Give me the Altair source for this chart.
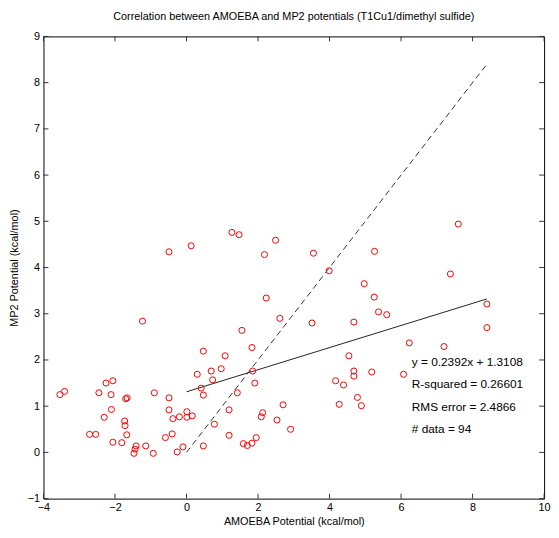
import altair as alt
import pandas as pd

# ---- data ----
amoeba = [-0.49, 0.13, -1.23, -3.54, -3.41, -2.45, -2.25, -2.06, -2.11, -1.70,
          -1.66, -2.10, -2.30, -1.73, -1.72, -1.67, -2.71, -2.54, -2.06, -1.81,
          -1.41, -1.44, -1.47, -1.14, -0.93, -0.90, -0.49, -0.49, -0.38, -0.20,
          0.01, 0.01, 0.16, -0.59, -0.40, -0.26, -0.10, 0.47, 0.78, 1.19,
          1.19, 0.30, 0.41, 0.47, 0.47, 0.69, 0.73, 0.97, 1.08, 1.42,
          1.27, 1.47, 2.49, 2.18, 3.55, 3.99, 2.23, 2.61, 1.55, 3.51,
          4.68, 1.83, 1.85, 1.91, 2.13, 2.09, 2.70, 2.53, 2.91, 1.59,
          1.70, 1.83, 1.95, 4.54, 4.17, 4.39, 4.27, 4.68, 4.68, 4.78,
          7.60, 5.26, 7.38, 4.97, 5.25, 5.37, 5.60, 8.40, 8.40, 6.23,
          7.20, 5.18, 6.07, 4.89]
mp2 = [4.34, 4.47, 2.84, 1.25, 1.32, 1.29, 1.50, 1.55, 1.25, 1.16,
       1.18, 0.93, 0.76, 0.68, 0.58, 0.38, 0.39, 0.39, 0.22, 0.21,
       0.14, 0.07, -0.02, 0.14, -0.02, 1.29, 1.18, 0.92, 0.73, 0.77,
       0.88, 0.76, 0.79, 0.32, 0.40, 0.01, 0.12, 0.14, 0.61, 0.92,
       0.37, 1.69, 1.39, 1.24, 2.19, 1.76, 1.57, 1.81, 2.09, 1.29,
       4.76, 4.71, 4.59, 4.28, 4.31, 3.93, 3.34, 2.90, 2.64, 2.80,
       2.82, 2.27, 1.76, 1.50, 0.86, 0.77, 1.03, 0.70, 0.50, 0.19,
       0.15, 0.20, 0.32, 2.09, 1.55, 1.46, 1.04, 1.76, 1.65, 1.19,
       4.94, 4.35, 3.86, 3.65, 3.36, 3.04, 2.98, 3.21, 2.70, 2.37,
       2.29, 1.74, 1.69, 1.01]

fit_x = [0.0, 8.4]
fit_y = [1.3108, 3.3201]
diag_x = [0.0, 8.4]
diag_y = [0.0, 8.4]

ann_x = [6.3, 6.3, 6.3, 6.3]
ann_y = [1.96, 1.48, 0.98, 0.50]
ann_text = ["y = 0.2392x + 1.3108", "R-squared = 0.26601",
            "RMS error = 2.4866", "# data = 94"]

x_ticks = [-4, -2, 0, 2, 4, 6, 8, 10]
y_ticks = [-1, 0, 1, 2, 3, 4, 5, 6, 7, 8, 9]

title_text = "Correlation between AMOEBA and MP2 potentials (T1Cu1/dimethyl sulfide)"

W, H = 508, 469
FONT = "Liberation Sans"

pts = pd.DataFrame({"x": amoeba, "y": mp2})
fit = pd.DataFrame({"x": fit_x, "y": fit_y})
diag = pd.DataFrame({"x": diag_x, "y": diag_y})
ann = pd.DataFrame({"x": ann_x, "y": ann_y, "label": ann_text})
xt = pd.DataFrame({"x": x_ticks})
yt = pd.DataFrame({"y": y_ticks})

xscale = alt.Scale(domain=[-4, 10], nice=False, zero=False)
yscale = alt.Scale(domain=[-1, 9], nice=False, zero=False)

X = alt.X("x:Q", scale=xscale, title="AMOEBA Potential (kcal/mol)",
          axis=alt.Axis(values=x_ticks, labelPadding=3, titlePadding=3,
                        labelFlush=False))
Y = alt.Y("y:Q", scale=yscale, title="MP2 Potential (kcal/mol)",
          axis=alt.Axis(values=y_ticks, labelPadding=4, titlePadding=8))

points = alt.Chart(pts).mark_point(
    shape="circle", filled=False, color="#ff0000", size=38, strokeWidth=1, opacity=1
).encode(x=X, y=Y)

fit_line = alt.Chart(fit).mark_line(color="#222222", strokeWidth=1).encode(x=X, y=Y)
diag_line = alt.Chart(diag).mark_line(
    color="#333333", strokeWidth=1, strokeDash=[6, 4]
).encode(x=X, y=Y)

texts = alt.Chart(ann).mark_text(
    align="left", baseline="middle", font=FONT, fontSize=12, color="black"
).encode(x=X, y=Y, text="label:N")

tick_b = alt.Chart(xt).mark_rule(color="#333333").encode(
    x=X, y=alt.value(H), y2=alt.value(H - 5))
tick_t = alt.Chart(xt).mark_rule(color="#333333").encode(
    x=X, y=alt.value(0), y2=alt.value(5))
tick_l = alt.Chart(yt).mark_rule(color="#333333").encode(
    y=Y, x=alt.value(0), x2=alt.value(5))
tick_r = alt.Chart(yt).mark_rule(color="#333333").encode(
    y=Y, x=alt.value(W), x2=alt.value(W - 5))

chart = alt.layer(
    tick_b, tick_t, tick_l, tick_r, diag_line, fit_line, points, texts
).properties(
    width=W, height=H,
    title=alt.TitleParams(title_text, font=FONT, fontSize=11, fontWeight="normal",
                          color="black", anchor="middle", offset=9),
    autosize=alt.AutoSizeParams(type="none"),
    padding={"left": 36, "top": 25, "right": 7, "bottom": 28},
).configure_view(
    stroke="#000000", strokeWidth=1
).configure_axis(
    domain=False, ticks=False, grid=False,
    labelFont=FONT, labelFontSize=11, labelColor="black",
    titleFont=FONT, titleFontSize=11, titleFontWeight="normal", titleColor="black",
)

chart.save("out.html", embed_options={"renderer": "svg", "actions": False})
